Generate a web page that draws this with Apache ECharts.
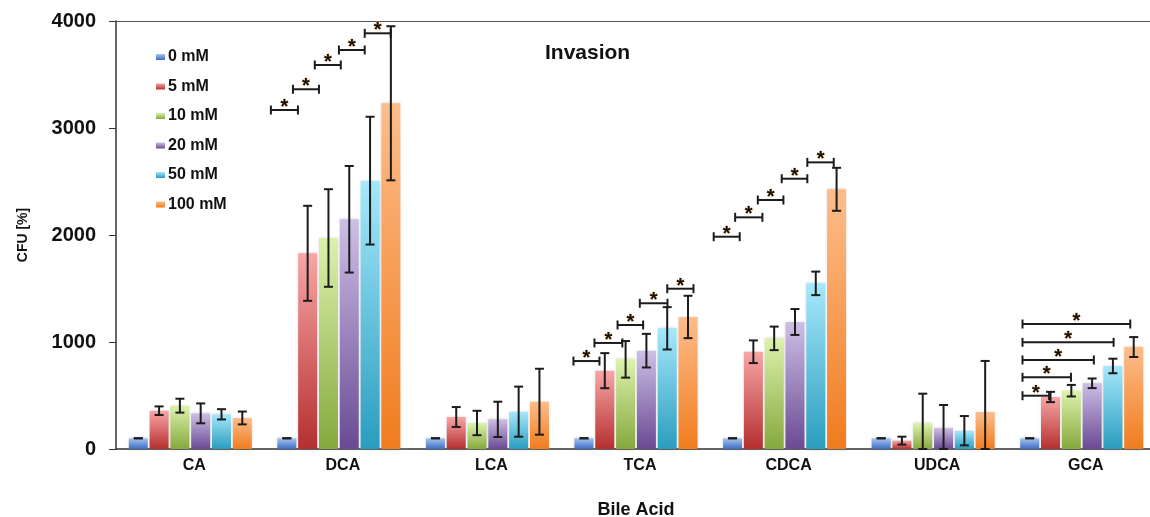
<!DOCTYPE html>
<html>
<head>
<meta charset="utf-8">
<script src="https://cdn.jsdelivr.net/npm/echarts@6/dist/echarts.min.js"></script>
<style>
html,body{margin:0;padding:0;background:#fff;}
#chart{width:1150px;height:517px;}
</style>
</head>
<body>
<div id="chart"></div>
<script>
// ---- data ----
const categories = ['CA', 'DCA', 'LCA', 'TCA', 'CDCA', 'UDCA', 'GCA'];
const seriesNames = ['0 mM', '5 mM', '10 mM', '20 mM', '50 mM', '100 mM'];
const yTicks = [0, 1000, 2000, 3000, 4000];

const mM0   = [100, 100, 100, 100, 100, 100, 100];
const mM5   = [358, 1829, 299, 732, 909, 78, 486];
const mM10  = [405, 1972, 243, 838, 1034, 240, 545];
const mM20  = [333, 2147, 277, 919, 1187, 196, 614];
const mM50  = [324, 2508, 349, 1128, 1548, 171, 776];
const mM100 = [290, 3231, 442, 1234, 2427, 346, 953];

const err0   = [0, 0, 0, 0, 0, 0, 0];
const err5   = [40, 444, 93, 164, 106, 37, 48];
const err10  = [65, 456, 114, 171, 110, 277, 54];
const err20  = [93, 498, 165, 157, 121, 215, 45];
const err50  = [48, 597, 234, 198, 110, 137, 68];
const err100 = [60, 720, 308, 198, 201, 477, 93];

// significance brackets: [category index, from bar slot, to bar slot, height value]
const sigDCA  = [[1, -0.31, 0.99, 3168], [1, 0.75, 2.0, 3362], [1, 1.8, 3.05, 3589], [1, 2.96, 4.2, 3729], [1, 4.2, 5.45, 3885]];
const sigTCA  = [[3, -0.05, 1.2, 822], [3, 0.96, 2.3, 991], [3, 2.07, 3.3, 1159], [3, 3.14, 4.47, 1362], [3, 4.46, 5.72, 1498]];
const sigCDCA = [[4, -0.45, 0.8, 1984], [4, 0.58, 1.89, 2165], [4, 1.67, 2.9, 2327], [4, 2.82, 4.05, 2526], [4, 4.05, 5.32, 2679]];
const sigGCA  = [[6, 0.11, 1.39, 498], [6, 0.11, 2.44, 670], [6, 0.11, 3.54, 832], [6, 0.11, 4.49, 997], [6, 0.11, 5.29, 1168]];

// ---- styling ----
const FONT = "'Liberation Sans', Arial, sans-serif";
const values = [mM0, mM5, mM10, mM20, mM50, mM100];
const errors = [err0, err5, err10, err20, err50, err100];
const gradients = [
  ['#a6c3ef', '#3e6dc2'],
  ['#f8a6a6', '#b52f2f'],
  ['#dcf2ad', '#86a83d'],
  ['#cdbfe5', '#6a4a93'],
  ['#a6e8fc', '#2a9dbe'],
  ['#fdbd8b', '#f07c1e']
];
const BAR_W = 19;
const GAP_RATIO = 0.095;
const SLOT = BAR_W * (1 + GAP_RATIO);
const GROUP_W = 6 * SLOT - BAR_W * GAP_RATIO;
const LINE_C = '#1c1c1c';

const chart = echarts.init(document.getElementById('chart'));

const barSeries = seriesNames.map((name, k) => ({
  name: name,
  type: 'bar',
  data: values[k],
  barWidth: BAR_W,
  barGap: (GAP_RATIO * 100) + '%',
  itemStyle: {
    color: new echarts.graphic.LinearGradient(0, 0, 0, 1, [
      { offset: 0, color: gradients[k][0] },
      { offset: 1, color: gradients[k][1] }
    ]),
    shadowColor: 'rgba(0,0,0,0.18)',
    shadowBlur: 3
  },
  emphasis: { disabled: true },
  animation: false
}));

const errData = [];
values.forEach((arr, k) => {
  arr.forEach((v, i) => errData.push([i, v, errors[k][i], k]));
});

const sigData = [].concat(sigDCA, sigTCA, sigCDCA, sigGCA);

function lineEl(x1, y1, x2, y2, w) {
  return { type: 'line', shape: { x1, y1, x2, y2 }, style: { stroke: LINE_C, lineWidth: w } };
}

const errSeries = {
  type: 'custom',
  name: 'err',
  data: errData,
  encode: { x: 0, y: 1 },
  z: 5,
  animation: false,
  renderItem: function (params, api) {
    const cat = api.value(0), v = api.value(1), e = api.value(2), k = api.value(3);
    const base = api.coord([cat, v]);
    const x = base[0] + (k - 2.5) * SLOT;
    const yHi = api.coord([cat, v + e])[1];
    const yLo = api.coord([cat, Math.max(0, v - e)])[1];
    const cap = 4.5;
    return {
      type: 'group',
      children: [
        lineEl(x, yHi, x, yLo, 2),
        lineEl(x - cap, yHi, x + cap, yHi, 2),
        lineEl(x - cap, yLo, x + cap, yLo, 2)
      ]
    };
  }
};

const sigSeries = {
  type: 'custom',
  name: 'sig',
  data: sigData,
  encode: { x: 0, y: 3 },
  z: 6,
  animation: false,
  renderItem: function (params, api) {
    const cat = api.value(0), s0 = api.value(1), s1 = api.value(2), yv = api.value(3);
    const c = api.coord([cat, yv]);
    const left = c[0] - GROUP_W / 2;
    const x0 = left + s0 * SLOT, x1 = left + s1 * SLOT, y = c[1];
    const cap = 4.5;
    return {
      type: 'group',
      children: [
        lineEl(x0, y, x1, y, 2),
        lineEl(x0, y - cap, x0, y + cap, 2),
        lineEl(x1, y - cap, x1, y + cap, 2),
        {
          type: 'text',
          style: {
            text: '*', x: (x0 + x1) / 2, y: y - 2.5, align: 'center', verticalAlign: 'middle',
            font: 'bold 20px ' + FONT, fill: '#111', stroke: '#f0a24a', lineWidth: 0.6
          }
        }
      ]
    };
  }
};

chart.setOption({
  animation: false,
  title: {
    text: 'Invasion',
    left: 540,
    top: 38,
    textStyle: { fontFamily: FONT, fontSize: 21, fontWeight: 'bold', color: '#111' }
  },
  legend: {
    data: seriesNames,
    orient: 'vertical',
    left: 151,
    top: 44,
    itemWidth: 9,
    itemHeight: 6,
    itemGap: 13.5,
    icon: 'rect',
    textStyle: { fontFamily: FONT, fontSize: 16, fontWeight: 'bold', color: '#111', padding: [0, 0, 0, -2] }
  },
  grid: { left: 116, right: -6, top: 21, bottom: 68, containLabel: false, outerBoundsMode: 'none' },
  xAxis: [{
    type: 'category',
    data: categories,
    name: 'Bile Acid',
    nameLocation: 'middle',
    nameGap: 52,
    nameTextStyle: { fontFamily: FONT, fontSize: 18, fontWeight: 'bold', color: '#111' },
    axisLine: { lineStyle: { color: '#333', width: 1.5 } },
    axisTick: { show: false },
    axisLabel: { fontFamily: FONT, fontSize: 16, fontWeight: 'bold', color: '#111', margin: 9, padding: [0, 0, 0, 8] }
  }, {
    type: 'category',
    data: categories,
    position: 'top',
    axisLine: { show: true, lineStyle: { color: '#555', width: 1.2 } },
    axisTick: { show: false },
    axisLabel: { show: false }
  }],
  yAxis: {
    type: 'value',
    min: yTicks[0],
    max: yTicks[yTicks.length - 1],
    interval: 1000,
    name: 'CFU [%]',
    nameLocation: 'middle',
    nameGap: 86,
    nameTextStyle: { fontFamily: FONT, fontSize: 14, fontWeight: 'bold', color: '#111' },
    axisLine: { show: true, lineStyle: { color: '#333', width: 1.5 } },
    axisTick: { show: true, length: 7, lineStyle: { color: '#333' } },
    splitLine: { show: false },
    axisLabel: { fontFamily: FONT, fontSize: 20, fontWeight: 'bold', color: '#111', margin: 20, formatter: v => String(v) }
  },
  series: barSeries.concat([errSeries, sigSeries])
});
</script>
</body>
</html>
